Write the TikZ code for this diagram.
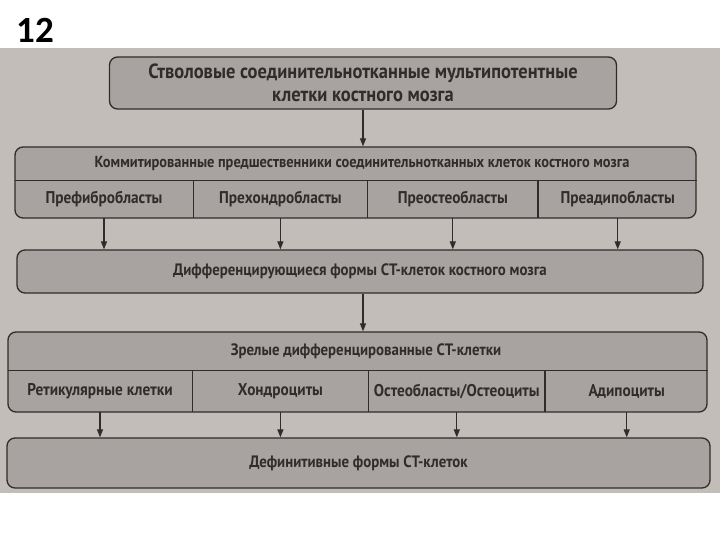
\documentclass[tikz,border=0pt]{standalone}
\usepackage{fontspec}
\setmainfont{PT Sans}
\newfontfamily\numfont{Carlito}
\newfontfamily\narrowfont[FakeStretch=0.9]{PT Sans}
\usetikzlibrary{arrows.meta,positioning}
\definecolor{photo}{RGB}{194,189,185}
\definecolor{boxfill}{RGB}{168,163,160}
\definecolor{ink}{RGB}{48,44,44}

\tikzset{
  block/.style={draw=ink, line width=1.3pt, rounded corners=8pt, fill=boxfill, inner sep=0pt},
  label/.style={inner sep=0pt, text=ink, font=\narrowfont\bfseries\fontsize{16.5}{19}\selectfont},
  cell/.style={label, font=\narrowfont\bfseries\fontsize{17}{19}\selectfont, minimum height=37pt},
  arr/.style={draw=ink, line width=1.2pt, -{Triangle[length=8pt,width=6pt]}},
  divider/.style={draw=ink, line width=1.1pt}
}

\begin{document}
\begin{tikzpicture}[x=1pt,y=1pt]
\useasboundingbox (0,0) rectangle (720,-540);
% photo background
\fill[photo] (0,-48) rectangle (720,-493);
\node[font=\numfont\bfseries\fontsize{37}{40}\selectfont] (num) at (35,-30) {12};

% Stem cells
\node[block, minimum width=507pt, minimum height=52pt, align=center,
      text=ink, font=\narrowfont\bfseries\fontsize{20.5}{23}\selectfont] (stem) at (363,-83)
  {Стволовые соединительнотканные мультипотентные\\клетки костного мозга};

% Committed precursors
\node[block, minimum width=681pt, minimum height=71pt] (comm) at (355.5,-182.5) {};
\node[label, font=\narrowfont\bfseries\fontsize{16}{19}\selectfont] (commtitle) at (362,-164)
  {Коммитированные предшественники соединительнотканных клеток костного мозга};
\node[cell, minimum width=178pt] (c1) at (104,-199.5) {Префибробласты};
\node[cell, minimum width=174pt, right=0pt of c1] (c2) {Прехондробласты};
\node[cell, minimum width=170pt, right=0pt of c2] (c3) {Преостеобласты};
\node[cell, minimum width=159pt, right=0pt of c3] (c4) {Преадипобласты};
\draw[divider] (c1.north west) -- (c4.north east);
\foreach \c in {c1,c2,c3}
  \draw[divider] (\c.north east) -- (\c.south east);

% Differentiating forms
\node[block, minimum width=686pt, minimum height=43pt, label] (diff) at (360,-271.5)
  {Дифференцирующиеся формы СТ-клеток костного мозга};

% Mature cells
\node[block, minimum width=699pt, minimum height=80pt] (mat) at (357.5,-372) {};
\node[label] (mattitle) at (366,-351) {Зрелые дифференцированные СТ-клетки};
\node[cell, minimum width=184pt, minimum height=41pt] (m1) at (100,-391.5) {Ретикулярные клетки};
\node[cell, minimum width=176pt, minimum height=41pt, right=0pt of m1] (m2) {Хондроциты};
\node[cell, minimum width=176pt, minimum height=41pt, right=0pt of m2] (m3) {Остеобласты/Остеоциты};
\node[cell, minimum width=163pt, minimum height=41pt, right=0pt of m3] (m4) {Адипоциты};
\draw[divider] (m1.north west) -- (m4.north east);
\foreach \c in {m1,m2,m3}
  \draw[divider] (\c.north east) -- (\c.south east);

% Definitive forms
\node[block, minimum width=703pt, minimum height=50pt, label] (def) at (358.5,-463)
  {Дефинитивные формы СТ-клеток};

% Arrows
\draw[arr] (stem.south) -- (stem.south |- comm.north);
\foreach \c in {c1,c2,c3,c4}
  \draw[arr] (\c.south) -- (\c.south |- diff.north);
\draw[arr] (stem.south |- diff.south) -- (stem.south |- mat.north);
\foreach \c in {m1,m2,m3,m4}
  \draw[arr] (\c.south) -- (\c.south |- def.north);
\end{tikzpicture}
\end{document}
